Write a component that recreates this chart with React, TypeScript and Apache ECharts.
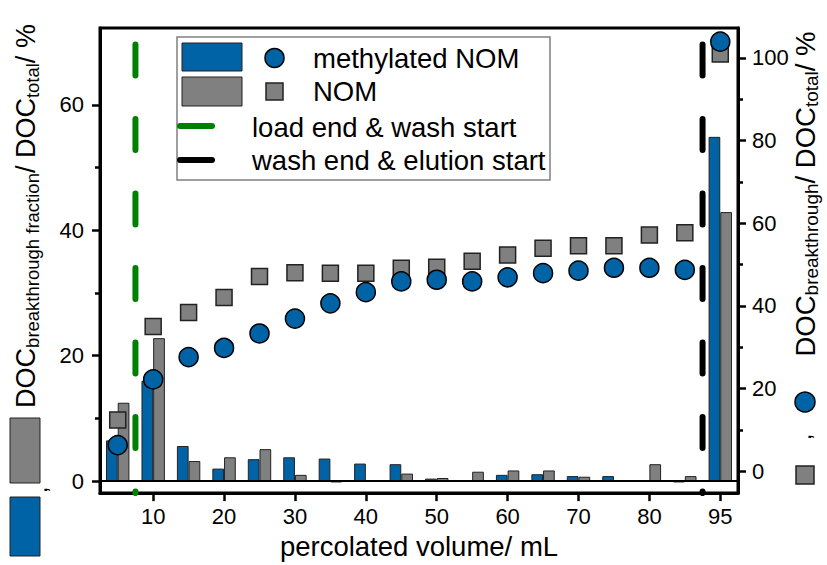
import React, { useEffect, useRef } from 'react';
import * as echarts from 'echarts';

const categories = ['5', '10', '15', '20', '25', '30', '35', '40', '45', '50', '55', '60', '65', '70', '75', '80', '85', '95'];
const labelledCategories = ['10', '20', '30', '40', '50', '60', '70', '80', '95'];

// DOC breakthrough fraction / DOC total (%), bars, left axis
const methylFraction = [6.5, 16.0, 5.6, 2.0, 3.5, 3.8, 3.6, 2.8, 2.7, 0.4, -0.1, 1.0, 1.1, 0.8, 0.8, 0, -0.2, 54.9];
const nomFraction = [12.5, 22.8, 3.2, 3.8, 5.1, 1.0, -0.2, 0, 1.2, 0.5, 1.5, 1.7, 1.7, 0.7, 0, 2.7, 0.8, 42.9];

// cumulative DOC breakthrough / DOC total (%), symbols, right axis
const methylCumulative = [6.3, 22.2, 27.6, 29.8, 33.3, 36.9, 40.6, 43.3, 45.9, 46.3, 45.9, 46.9, 47.9, 48.5, 49.2, 49.2, 48.7, 103.9];
const nomCumulative = [12.4, 35.0, 38.4, 42.0, 47.1, 48.0, 47.9, 47.9, 49.1, 49.3, 50.8, 52.3, 53.9, 54.5, 54.5, 57.1, 57.7, 100.9];

const leftTicks = [0, 20, 40, 60];
const leftMinorTicks = [10, 30, 50];
const rightTicks = [0, 20, 40, 60, 80, 100];
const rightMinorTicks = [10, 30, 50, 70, 90];

const leftMin = -1.91;
const leftMax = 72.26;
const rightMin = -5.31;
const rightMax = 107.2;

// marker positions in category-index units (between categories)
const loadEndIndex = 0.5;
const washEndIndex = 16.5;

const FONT = 'Liberation Sans, Arial, sans-serif';
const BLUE = '#0063A6';
const GRAY = '#808080';
const GREEN = '#008000';

export default function App() {
  const ref = useRef<HTMLDivElement>(null);
  useEffect(() => {
    const chart = echarts.init(ref.current!, null, { renderer: 'svg' });
    const showLabel = (_i: number, v: string) => labelledCategories.includes(v);
    const dash = { type: [31, 43.5] as any, dashOffset: 57.5, cap: 'round' as const, width: 6 };

    const richTitle = (main: number, sub: number) => ({
      m: { fontSize: main, lineHeight: 30, verticalAlign: 'top', fontFamily: FONT, fill: '#000' },
      s: { fontSize: sub, lineHeight: 12, verticalAlign: 'bottom', fontFamily: FONT, fill: '#000' },
    });

    const option: any = {
      animation: false,
      backgroundColor: '#fff',
      grid: { left: 100, right: 89, top: 28, bottom: 71, show: true, borderColor: '#000', borderWidth: 3, backgroundColor: 'transparent' },
      xAxis: [
        {
          type: 'category',
          data: categories,
          position: 'bottom',
          axisLine: { show: true, onZero: false, lineStyle: { color: '#000', width: 3 } },
          axisTick: { show: true, interval: showLabel, alignWithLabel: true, length: 8, lineStyle: { color: '#000', width: 2.5 } },
          axisLabel: { interval: showLabel, fontSize: 22, color: '#000', fontFamily: FONT, margin: 12 },
          splitLine: { show: false },
          name: 'percolated volume/ mL',
          nameLocation: 'middle',
          nameGap: 36,
          nameTextStyle: { fontSize: 27.5, color: '#000', fontFamily: FONT },
        },
        { type: 'value', min: -0.5, max: 17.5, show: false, axisLine: { onZero: false } },
      ],
      yAxis: [
        {
          type: 'value', position: 'left', min: leftMin, max: leftMax,
          axisLine: { show: true, onZero: false, lineStyle: { color: '#000', width: 3 } },
          axisTick: { show: true, customValues: leftTicks, length: 8, lineStyle: { color: '#000', width: 2.5 } },
          axisLabel: { customValues: leftTicks, fontSize: 22, color: '#000', fontFamily: FONT, margin: 16 },
          splitLine: { show: false },
        },
        {
          type: 'value', position: 'right', min: rightMin, max: rightMax,
          axisLine: { show: true, onZero: false, lineStyle: { color: '#000', width: 3 } },
          axisTick: { show: true, customValues: rightTicks, length: 8, lineStyle: { color: '#000', width: 2.5 } },
          axisLabel: { customValues: rightTicks, fontSize: 22, color: '#000', fontFamily: FONT, margin: 14 },
          splitLine: { show: false },
        },
        {
          type: 'value', position: 'left', min: leftMin, max: leftMax,
          axisLine: { show: false, onZero: false },
          axisTick: { show: true, customValues: leftMinorTicks, length: 5, lineStyle: { color: '#000', width: 2.5 } },
          axisLabel: { show: false },
          splitLine: { show: false },
        },
        {
          type: 'value', position: 'right', min: rightMin, max: rightMax,
          axisLine: { show: false, onZero: false },
          axisTick: { show: true, customValues: rightMinorTicks, length: 5, lineStyle: { color: '#000', width: 2.5 } },
          axisLabel: { show: false },
          splitLine: { show: false },
        },
      ],
      series: [
        {
          name: 'load end & wash start', type: 'line', xAxisIndex: 1, yAxisIndex: 0,
          data: [[loadEndIndex, leftMax], [loadEndIndex, leftMin]],
          symbol: 'none', lineStyle: { color: GREEN, ...dash }, z: 1, silent: true,
        },
        {
          name: 'wash end & elution start', type: 'line', xAxisIndex: 1, yAxisIndex: 0,
          data: [[washEndIndex, leftMax], [washEndIndex, leftMin]],
          symbol: 'none', lineStyle: { color: '#000', ...dash }, z: 1, silent: true,
        },
        {
          name: 'methylated NOM fraction', type: 'bar', xAxisIndex: 0, yAxisIndex: 0,
          data: methylFraction, barGap: '0%', barCategoryGap: '34%',
          itemStyle: { color: BLUE, borderColor: '#222', borderWidth: 1, opacity: 1 }, z: 2,
          markLine: {
            silent: true, symbol: 'none', label: { show: false },
            lineStyle: { color: '#000', width: 2, type: 'solid' },
            data: [{ yAxis: 0 }],
          },
        },
        {
          name: 'NOM fraction', type: 'bar', xAxisIndex: 0, yAxisIndex: 0,
          data: nomFraction,
          itemStyle: { color: GRAY, borderColor: '#222', borderWidth: 1, opacity: 1 }, z: 2,
        },
        {
          name: 'NOM', type: 'scatter', xAxisIndex: 0, yAxisIndex: 1,
          data: nomCumulative, symbol: 'rect', symbolSize: 16,
          itemStyle: { color: GRAY, borderColor: '#222', borderWidth: 1.5, opacity: 1 }, z: 3,
        },
        {
          name: 'methylated NOM', type: 'scatter', xAxisIndex: 0, yAxisIndex: 1,
          data: methylCumulative, symbol: 'circle', symbolSize: 19,
          itemStyle: { color: BLUE, borderColor: '#000', borderWidth: 1.5, opacity: 1 }, z: 4,
        },
      ],
      graphic: [
        // legend
        { type: 'rect', z: 100, shape: { x: 177, y: 37, width: 373, height: 143 }, style: { fill: '#fff', stroke: '#808080', lineWidth: 1.5 } },
        { type: 'rect', z: 101, shape: { x: 182, y: 43, width: 60, height: 28 }, style: { fill: BLUE, stroke: '#222', lineWidth: 1 } },
        { type: 'rect', z: 101, shape: { x: 182, y: 77, width: 60, height: 29 }, style: { fill: GRAY, stroke: '#222', lineWidth: 1 } },
        { type: 'circle', z: 101, shape: { cx: 274.5, cy: 58, r: 9.5 }, style: { fill: BLUE, stroke: '#000', lineWidth: 1.5 } },
        { type: 'rect', z: 101, shape: { x: 266, y: 83, width: 17, height: 17 }, style: { fill: GRAY, stroke: '#222', lineWidth: 1.5 } },
        { type: 'text', z: 101, x: 313, y: 58, style: { text: 'methylated NOM', fontSize: 27.5, fontFamily: FONT, fill: '#000', verticalAlign: 'middle' } },
        { type: 'text', z: 101, x: 313, y: 91, style: { text: 'NOM', fontSize: 27.5, fontFamily: FONT, fill: '#000', verticalAlign: 'middle' } },
        { type: 'line', z: 101, shape: { x1: 180, y1: 126, x2: 212, y2: 126 }, style: { stroke: GREEN, lineWidth: 6, lineCap: 'round' } },
        { type: 'text', z: 101, x: 252, y: 127, style: { text: 'load end & wash start', fontSize: 27.5, fontFamily: FONT, fill: '#000', verticalAlign: 'middle' } },
        { type: 'line', z: 101, shape: { x1: 180, y1: 160, x2: 212, y2: 160 }, style: { stroke: '#000', lineWidth: 6, lineCap: 'round' } },
        { type: 'text', z: 101, x: 252, y: 160, style: { text: 'wash end & elution start', fontSize: 27.5, fontFamily: FONT, fill: '#000', verticalAlign: 'middle' } },
        // left axis title
        {
          type: 'text', x: 27, y: 216, rotation: Math.PI / 2,
          style: {
            text: '{m|DOC}{s|breakthrough fraction}{m|/ DOC}{s|total}{m|/ %}',
            rich: richTitle(27, 18.5), align: 'center', verticalAlign: 'middle', fontFamily: FONT, fill: '#000',
          },
        },
        { type: 'rect', shape: { x: 10, y: 418, width: 30, height: 65 }, style: { fill: GRAY, stroke: '#222', lineWidth: 1 } },
        { type: 'text', x: 38, y: 490, rotation: Math.PI / 2, style: { text: ',', fontSize: 24, fontFamily: FONT, fill: '#000', align: 'center', verticalAlign: 'middle' } },
        { type: 'rect', shape: { x: 10, y: 497, width: 30, height: 59 }, style: { fill: BLUE, stroke: '#222', lineWidth: 1 } },
        // right axis title
        {
          type: 'text', x: 806, y: 194, rotation: Math.PI / 2,
          style: {
            text: '{m|DOC}{s|breakthrough}{m|/ DOC}{s|total}{m|/ %}',
            rich: richTitle(27.5, 19), align: 'center', verticalAlign: 'middle', fontFamily: FONT, fill: '#000',
          },
        },
        { type: 'circle', shape: { cx: 805, cy: 402, r: 10 }, style: { fill: BLUE, stroke: '#000', lineWidth: 1.5 } },
        { type: 'text', x: 802, y: 437, rotation: Math.PI / 2, style: { text: ',', fontSize: 24, fontFamily: FONT, fill: '#000', align: 'center', verticalAlign: 'middle' } },
        { type: 'rect', shape: { x: 796, y: 466, width: 18, height: 18 }, style: { fill: GRAY, stroke: '#222', lineWidth: 1.5 } },
      ],
    };
    chart.setOption(option);
    return () => chart.dispose();
  }, []);
  return <div ref={ref} style={{ position: 'fixed', left: 0, top: 0, width: 827, height: 565 }} />;
}
